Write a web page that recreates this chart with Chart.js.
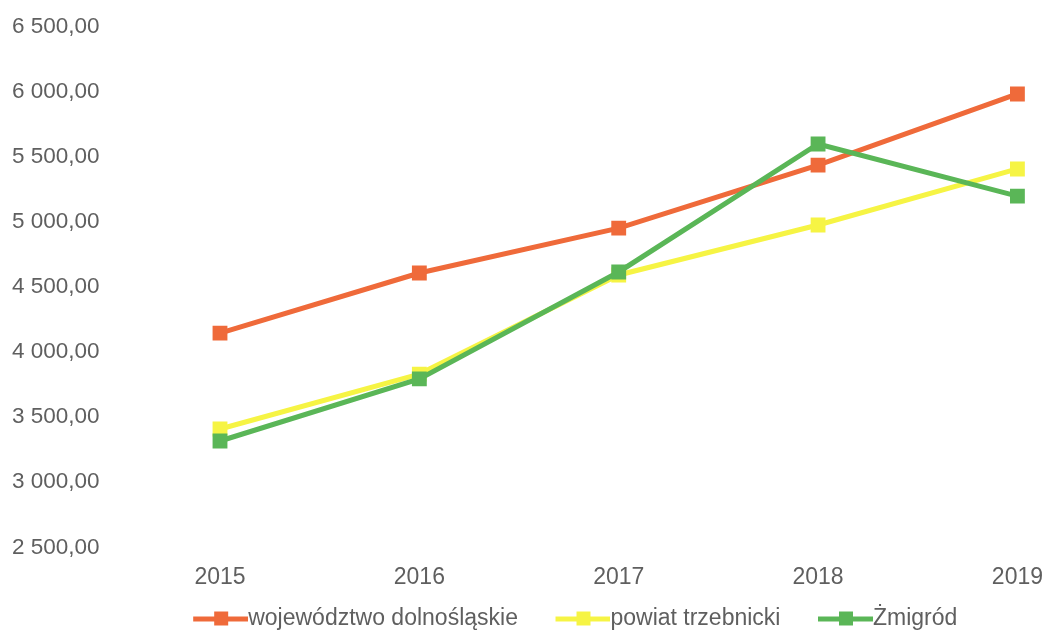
<!DOCTYPE html>
<html>
<head>
<meta charset="utf-8">
<script src="https://cdn.jsdelivr.net/npm/chart.js@4.4.1/dist/chart.umd.min.js"></script>
<style>
  html, body { margin: 0; padding: 0; background: #fff; }
  #wrap { width: 1049px; height: 632px; }
</style>
</head>
<body>
<div id="wrap"><canvas id="chart"></canvas></div>
<script>
const years = ['2015', '2016', '2017', '2018', '2019'];
const wojewodztwo = [4146, 4607, 4952, 5436, 5982];
const powiat = [3409, 3831, 4592, 4976, 5406];
const zmigrod = [3317, 3794, 4615, 5598, 5198];

const orange = '#ef6a3a';
const yellow = '#f6f444';
const green = '#5ab657';
const textGray = '#5f5f5f';
const fontFamily = 'Liberation Sans, Arial, sans-serif';

const legendFont = 23;
const boxW = 77;

// legend picture: line with a square, sitting at the right end so it touches the text
function legendMark(color) {
    let w = boxW + legendFont;
    let c = document.createElement('canvas');
    c.width = w;
    c.height = 16;
    let ctx = c.getContext('2d');
    ctx.fillStyle = color;
    ctx.fillRect(w - 55, 6, 55, 5);
    ctx.fillRect(w - 55 + 21, 1, 14, 14);
    return c;
}

function series(label, values, color, order) {
    return {
        label: label,
        data: values,
        borderColor: color,
        backgroundColor: color,
        borderWidth: 5,
        pointStyle: 'rect',
        pointRadius: 10.5,
        pointHoverRadius: 10.5,
        pointBorderWidth: 0,
        tension: 0,
        order: order,
        legendMark: legendMark(color)
    };
}

let fmt = v => {
    let parts = v.toFixed(2).split('.');
    parts[0] = parts[0].replace(/\B(?=(\d{3})+(?!\d))/g, ' ');
    return parts.join(',');
};

// nudge the legend row to the right like in the original
const shiftLegend = {
    id: 'shiftLegend',
    afterLayout(chart) {
        chart.legend.left += 28;
        chart.legend.right += 28;
    }
};

new Chart(document.getElementById('chart'), {
    type: 'line',
    data: {
        labels: years,
        datasets: [
            series('województwo dolnośląskie', wojewodztwo, orange, 2),
            series('powiat trzebnicki', powiat, yellow, 1),
            series('Żmigród', zmigrod, green, 0)
        ]
    },
    plugins: [shiftLegend],
    options: {
        responsive: true,
        maintainAspectRatio: false,
        animation: false,
        layout: { padding: { top: 0, right: 0, left: 12, bottom: -8 } },
        plugins: {
            tooltip: { enabled: false },
            legend: {
                position: 'bottom',
                labels: {
                    color: textGray,
                    font: { family: fontFamily, size: legendFont },
                    usePointStyle: true,
                    pointStyleWidth: boxW,
                    padding: 4,
                    generateLabels: chart => chart.data.datasets.map((ds, i) => ({
                        text: ds.label,
                        fontColor: textGray,
                        pointStyle: ds.legendMark,
                        datasetIndex: i,
                        hidden: false,
                        lineWidth: 0
                    }))
                }
            }
        },
        scales: {
            x: {
                offset: false,
                grid: { display: true, color: 'rgba(0,0,0,0)', drawTicks: true, tickLength: 10 },
                border: { display: false },
                title: { display: true, text: '', font: { size: 5 }, padding: 0 },
                ticks: {
                    color: textGray,
                    padding: 6,
                    font: { family: fontFamily, size: 23 }
                }
            },
            y: {
                min: 2500,
                max: 6500,
                grid: { display: false, drawTicks: false },
                border: { display: false },
                afterFit: s => { s.width = 208; },
                ticks: {
                    stepSize: 500,
                    color: textGray,
                    padding: 13,
                    crossAlign: 'far',
                    font: { family: fontFamily, size: 22.5 },
                    callback: v => fmt(v)
                }
            }
        }
    }
});
</script>
</body>
</html>
